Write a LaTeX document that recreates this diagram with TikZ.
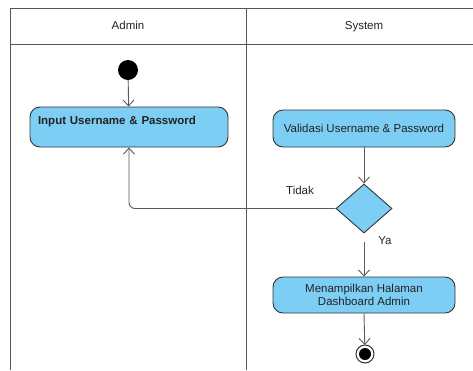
\documentclass[tikz,border=0pt]{standalone}
\usepackage{fontspec}
\setmainfont{Liberation Sans}
\usetikzlibrary{arrows.meta,shapes.geometric}
\definecolor{actfill}{HTML}{7DCEF4}
\definecolor{actline}{HTML}{333333}
\definecolor{laneline}{HTML}{555555}
\definecolor{flowline}{HTML}{5A5A5A}
\definecolor{txt}{HTML}{222222}
\begin{document}
\begin{tikzpicture}[x=1pt,y=-1pt,
  font=\fontsize{11.5}{13.5}\selectfont,
  activity/.style={draw=actline, line width=0.9pt, fill=actfill, rounded corners=10pt,
    text=txt, align=center, inner sep=4pt},
  decision/.style={diamond, draw=actline, line width=0.9pt, fill=actfill, inner sep=0pt},
  flow/.style={draw=flowline, line width=0.9pt, -{Straight Barb[length=6pt,width=11pt]}},
  lane/.style={draw=laneline, line width=1pt},
  label/.style={text=txt, inner sep=0pt}]
\useasboundingbox (0,0) rectangle (473,370);
\fill[white] (0,0) rectangle (473,370);

% swimlanes
\draw[lane] (473,8) -- (10,8) -- (10,370);
\draw[lane] (10,44) -- (473,44);
\draw[lane] (246,8) -- (246,370);
\node[label, anchor=base] (laneA) at (128,29.5) {Admin};
\node[label, anchor=base] (laneS) at (364,29.5) {System};

% activity nodes
\node[circle, fill=black, minimum size=20pt, inner sep=0pt] (start) at (128,70) {};
\node[activity, minimum width=198pt, minimum height=40pt, text width=182pt, align=left,
      inner sep=8pt, text depth=14pt, font=\fontsize{11.5}{13.5}\selectfont\bfseries]
      (input) at (129,127) {Input Username \& Password};
\node[activity, minimum width=182pt, minimum height=37pt] (valid) at (364,128.5)
      {Validasi Username \& Password};
\node[decision, minimum width=56pt, minimum height=49pt] (check) at (364,208.5) {};
\node[activity, minimum width=182pt, minimum height=36pt, inner sep=2pt] (dash) at (364,295)
      {Menampilkan Halaman\\Dashboard Admin};
\node[circle, fill=black, minimum size=12pt, inner sep=0pt] (end) at (365,354) {};
\draw[actline, line width=1pt, fill=none] (end.center) circle (9pt);

% flows
\draw[flow] (start) -- (input);
\draw[flow] (valid) -- (check);
\draw[flow, rounded corners=6pt] (check.west) -- (input.south |- check.west) -- (input.south);
\draw[flow, shorten <=9pt] (check.south) -- (dash.north);
\draw[flow, shorten >=9pt] (dash.south) -- (end.center);

% guard labels
\node[label] (no) at (300,190) {Tidak};
\node[label] (yes) at (385,241) {Ya};
\end{tikzpicture}
\end{document}
